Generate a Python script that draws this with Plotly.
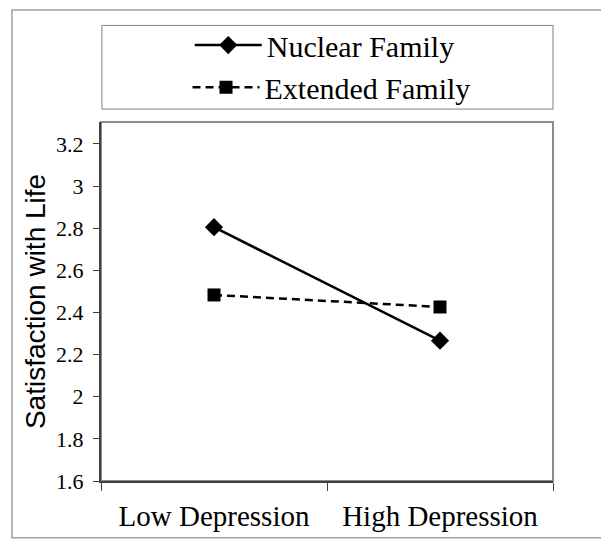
import plotly.graph_objects as go

categories = ["Low Depression", "High Depression"]
nuclear = [2.805, 2.266]
extended = [2.483, 2.426]
series_names = ["Nuclear Family", "Extended Family"]
y_ticks = [1.6, 1.8, 2.0, 2.2, 2.4, 2.6, 2.8, 3.0, 3.2]
y_tick_text = ["1.6", "1.8", "2", "2.2", "2.4", "2.6", "2.8", "3", "3.2"]

serif = "Liberation Serif, Times New Roman, serif"

fig = go.Figure()
fig.add_trace(go.Scatter(
    x=categories, y=nuclear, name=series_names[0], mode="lines+markers",
    line=dict(color="black", width=2.5),
    marker=dict(symbol="diamond", size=14, color="black"),
    legend="legend",
))
fig.add_trace(go.Scatter(
    x=categories, y=extended, name=series_names[1], mode="lines+markers",
    line=dict(color="black", width=2.5, dash="8px,5px"),
    marker=dict(symbol="square", size=13, color="black"),
    legend="legend2",
))

# outer frame
fig.add_shape(type="rect", xref="paper", yref="paper",
              x0=-0.197, x1=1.2, y0=-0.158, y1=1.3118,
              line=dict(color="#a0a0a0", width=1.5), layer="below")
# legend box
fig.add_shape(type="rect", xref="paper", yref="paper",
              x0=0.002, x1=1.0, y0=1.036, y1=1.269,
              line=dict(color="#808080", width=1), layer="below")
# plot area frame
fig.add_shape(type="rect", xref="paper", yref="paper",
              x0=0, x1=1, y0=0, y1=1,
              line=dict(color="#8c8c8c", width=2), layer="below")

legend_common = dict(
    xref="paper", yref="paper", xanchor="center", yanchor="middle",
    bgcolor="rgba(0,0,0,0)", borderwidth=0,
    font=dict(family=serif, size=30, color="black"),
    itemwidth=67,
)
fig.update_layout(
    width=609, height=539,
    margin=dict(l=93, r=64, t=113, b=66),
    paper_bgcolor="white", plot_bgcolor="white",
    showlegend=True,
    legend=dict(x=0.495, y=1.211, **legend_common),
    legend2=dict(x=0.51, y=1.094, **legend_common),
    xaxis=dict(
        type="category", range=[-0.5, 1.5],
        showgrid=False, showline=True, linecolor="#404040", linewidth=2,
        ticks="outside", tickson="boundaries", ticklen=8, tickcolor="#404040",
        tickfont=dict(family=serif, size=29, color="black"),
        ticklabelstandoff=8,
    ),
    yaxis=dict(
        range=[1.6, 3.304], tickvals=y_ticks, ticktext=y_tick_text,
        showgrid=False, showline=True, linecolor="#404040", linewidth=2,
        ticks="outside", ticklen=6, tickcolor="#404040",
        tickfont=dict(family=serif, size=22, color="black"),
        ticklabelstandoff=5,
        zeroline=False,
        title=dict(text="Satisfaction with Life",
                   font=dict(family="Liberation Sans", size=28, color="black"),
                   standoff=2),
    ),
)

fig.write_html("out.html")
